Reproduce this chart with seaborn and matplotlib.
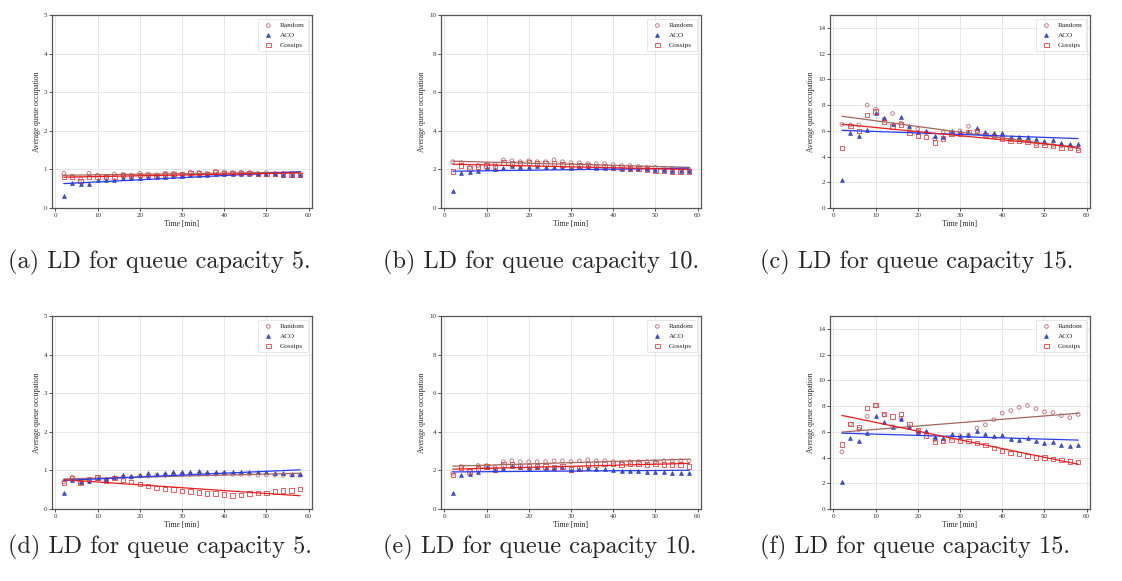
import numpy as np
import matplotlib
matplotlib.use("Agg")
import matplotlib.pyplot as plt
import seaborn as sns

# time axis: one sample every 2 minutes
minutes = list(range(2, 60, 2))

# (a) LD, queue capacity 5
a_random = [0.90, 0.83, 0.75, 0.90, 0.85, 0.82, 0.88, 0.87, 0.85, 0.90, 0.88, 0.86, 0.90, 0.90, 0.88,
            0.93, 0.92, 0.90, 0.95, 0.93, 0.92, 0.93, 0.92, 0.90, 0.92, 0.90, 0.90, 0.90, 0.90]
a_aco = [0.30, 0.65, 0.62, 0.62, 0.72, 0.72, 0.72, 0.78, 0.77, 0.78, 0.80, 0.80, 0.80, 0.82, 0.82,
         0.85, 0.85, 0.85, 0.87, 0.87, 0.87, 0.88, 0.88, 0.87, 0.87, 0.87, 0.86, 0.85, 0.85]
a_gossips = [0.80, 0.80, 0.70, 0.80, 0.82, 0.80, 0.82, 0.85, 0.83, 0.85, 0.85, 0.83, 0.87, 0.88, 0.87,
             0.90, 0.90, 0.88, 0.93, 0.90, 0.90, 0.90, 0.90, 0.88, 0.88, 0.88, 0.87, 0.86, 0.86]

# (b) LD, queue capacity 10
b_random = [2.40, 2.35, 2.10, 2.20, 2.25, 2.25, 2.50, 2.45, 2.40, 2.45, 2.40, 2.40, 2.50, 2.40, 2.35,
            2.35, 2.30, 2.30, 2.30, 2.25, 2.20, 2.20, 2.15, 2.10, 2.10, 2.05, 2.05, 2.00, 2.00]
b_aco = [0.90, 1.80, 1.85, 1.90, 2.05, 2.00, 2.05, 2.20, 2.15, 2.15, 2.20, 2.10, 2.10, 2.15, 2.05,
         2.10, 2.10, 2.05, 2.05, 2.05, 2.00, 2.00, 2.00, 2.00, 1.95, 1.95, 1.90, 1.90, 1.90]
b_gossips = [1.90, 2.20, 2.05, 2.15, 2.20, 2.15, 2.35, 2.30, 2.30, 2.35, 2.30, 2.30, 2.30, 2.25, 2.20,
             2.20, 2.20, 2.15, 2.15, 2.10, 2.10, 2.05, 2.05, 2.00, 1.95, 1.95, 1.90, 1.90, 1.90]

# (c) LD, queue capacity 15
c_random = [6.50, 6.45, 6.45, 8.00, 7.70, 6.90, 7.35, 6.60, 6.00, 6.15, 5.85, 5.35, 5.90, 5.80, 6.00,
            6.35, 6.00, 5.70, 5.60, 5.50, 5.30, 5.30, 5.20, 5.00, 5.00, 4.90, 4.80, 4.75, 4.60]
c_aco = [2.15, 5.80, 5.60, 6.10, 7.40, 7.00, 6.50, 7.05, 6.40, 5.90, 6.00, 5.60, 5.50, 6.00, 5.90,
         5.90, 6.20, 5.90, 5.80, 5.80, 5.55, 5.50, 5.55, 5.35, 5.20, 5.25, 5.05, 4.95, 5.00]
c_gossips = [4.65, 6.40, 6.00, 7.25, 7.50, 6.70, 6.35, 6.50, 5.85, 5.60, 5.50, 5.10, 5.40, 5.80, 5.75,
             5.90, 6.00, 5.70, 5.60, 5.40, 5.25, 5.20, 5.15, 4.95, 4.90, 4.80, 4.65, 4.65, 4.50]

# (d) LD, queue capacity 5
d_random = [0.70, 0.82, 0.70, 0.75, 0.82, 0.75, 0.80, 0.82, 0.82, 0.85, 0.85, 0.87, 0.87, 0.90, 0.90,
            0.90, 0.90, 0.90, 0.90, 0.92, 0.90, 0.90, 0.90, 0.88, 0.88, 0.88, 0.87, 0.87, 0.87]
d_aco = [0.42, 0.75, 0.70, 0.72, 0.80, 0.78, 0.82, 0.87, 0.85, 0.87, 0.92, 0.90, 0.92, 0.95, 0.95,
         0.95, 0.98, 0.96, 0.96, 0.97, 0.95, 0.96, 0.95, 0.95, 0.95, 0.93, 0.92, 0.90, 0.90]
d_gossips = [0.68, 0.80, 0.68, 0.78, 0.82, 0.74, 0.80, 0.75, 0.70, 0.65, 0.60, 0.55, 0.52, 0.50, 0.47,
             0.45, 0.43, 0.40, 0.40, 0.37, 0.35, 0.36, 0.40, 0.42, 0.42, 0.45, 0.48, 0.48, 0.52]

# (e) LD, queue capacity 10
e_random = [1.85, 2.20, 2.00, 2.25, 2.25, 2.15, 2.45, 2.50, 2.45, 2.45, 2.45, 2.45, 2.50, 2.50, 2.45,
            2.50, 2.55, 2.50, 2.50, 2.45, 2.40, 2.45, 2.45, 2.45, 2.45, 2.50, 2.50, 2.50, 2.50]
e_aco = [0.85, 1.75, 1.80, 1.90, 2.20, 2.00, 2.10, 2.25, 2.15, 2.10, 2.15, 2.10, 2.10, 2.15, 2.00,
         2.05, 2.10, 2.05, 2.05, 2.00, 1.95, 1.95, 1.95, 1.90, 1.90, 1.90, 1.85, 1.85, 1.85]
e_gossips = [1.75, 2.15, 1.95, 2.10, 2.20, 2.05, 2.30, 2.30, 2.20, 2.20, 2.20, 2.20, 2.15, 2.20, 2.05,
             2.10, 2.30, 2.30, 2.35, 2.35, 2.30, 2.35, 2.35, 2.30, 2.35, 2.30, 2.30, 2.30, 2.20]

# (f) LD, queue capacity 15
f_random = [4.45, 6.60, 6.20, 7.20, 8.05, 7.30, 6.40, 7.05, 6.40, 6.05, 5.90, 5.40, 5.25, 5.50, 5.70,
            5.75, 6.30, 6.55, 6.95, 7.45, 7.65, 7.90, 8.05, 7.80, 7.55, 7.50, 7.25, 7.10, 7.35]
f_aco = [2.10, 5.50, 5.30, 5.90, 7.20, 6.80, 6.40, 7.00, 6.35, 6.00, 6.10, 5.60, 5.50, 5.85, 5.70,
         5.75, 6.10, 5.80, 5.65, 5.75, 5.45, 5.35, 5.50, 5.25, 5.15, 5.20, 5.00, 4.90, 4.95]
f_gossips = [5.00, 6.60, 6.35, 7.85, 8.10, 7.40, 7.20, 7.40, 6.60, 6.10, 5.70, 5.20, 5.30, 5.35, 5.30,
             5.30, 5.15, 4.95, 4.75, 4.50, 4.35, 4.25, 4.10, 4.00, 4.00, 3.90, 3.80, 3.70, 3.65]

captions = ["(a) LD for queue capacity 5.", "(b) LD for queue capacity 10.",
            "(c) LD for queue capacity 15.", "(d) LD for queue capacity 5.",
            "(e) LD for queue capacity 10.", "(f) LD for queue capacity 15."]
capacities = [5, 10, 15, 5, 10, 15]
panels = [(a_random, a_aco, a_gossips), (b_random, b_aco, b_gossips), (c_random, c_aco, c_gossips),
          (d_random, d_aco, d_gossips), (e_random, e_aco, e_gossips), (f_random, f_aco, f_gossips)]

sns.set_theme(style="whitegrid", rc={
    "axes.edgecolor": "#555555", "axes.linewidth": 0.9,
    "grid.color": "#e3e3e3", "grid.linewidth": 0.6,
    "xtick.bottom": True, "ytick.left": True,
    "xtick.major.size": 2, "ytick.major.size": 2,
    "xtick.major.width": 0.6, "ytick.major.width": 0.6,
    "xtick.color": "#333333", "ytick.color": "#333333",
    "xtick.major.pad": 1.5, "ytick.major.pad": 1.5,
})
plt.rcParams["font.family"] = ["Liberation Serif", "DejaVu Serif"]

fig = plt.figure(figsize=(11.22, 5.81), dpi=100)
lefts = [0.0463, 0.393, 0.7398]
bottoms = [0.642, 0.124]
cap_x = [0.007, 0.341, 0.677]
cap_y = [0.549, 0.058]

styles = [("Random", "o", "#b8606e", "#a5675c", 7),
          ("ACO", "^", "#2233cc", "#2a3cf0", 7),
          ("Gossips", "s", "#e8333a", "#e61e1e", 10)]

for i, (series, cap, text) in enumerate(zip(panels, capacities, captions)):
    row, col = divmod(i, 3)
    ax = fig.add_axes([lefts[col], bottoms[row], 0.2317, 0.332])
    for vals, (name, mk, mcol, lcol, size) in zip(series, styles):
        hollow = mk != "^"
        sns.regplot(x=minutes, y=vals, ax=ax, ci=None, marker=mk, label=name,
                    scatter_kws={"s": size, "facecolors": "none" if hollow else mcol,
                                 "edgecolors": mcol, "linewidths": 0.7, "color": mcol},
                    line_kws={"color": lcol, "linewidth": 0.9})
    ax.set_xlim(-0.8, 60.8)
    ax.set_ylim(0, cap)
    ax.set_xticks(range(0, 61, 10))
    ax.set_yticks(range(0, cap + 1, 1 if cap == 5 else 2))
    ax.tick_params(labelsize=5)
    ax.set_xlabel("Time [min]", fontsize=5.5, labelpad=1.5)
    ax.set_ylabel("Average queue occupation", fontsize=5.5, labelpad=2)
    leg = ax.legend(loc="upper right", fontsize=5.2, frameon=True, markerscale=1.0,
                    handletextpad=0.6, borderpad=0.5, labelspacing=0.5)
    leg.get_frame().set_edgecolor("#dddddd")
    leg.get_frame().set_linewidth(0.6)
    fig.text(cap_x[col], cap_y[row], text, fontsize=17.5, family="cmr10", va="center", ha="left")

fig.savefig("out.png", dpi=100)
